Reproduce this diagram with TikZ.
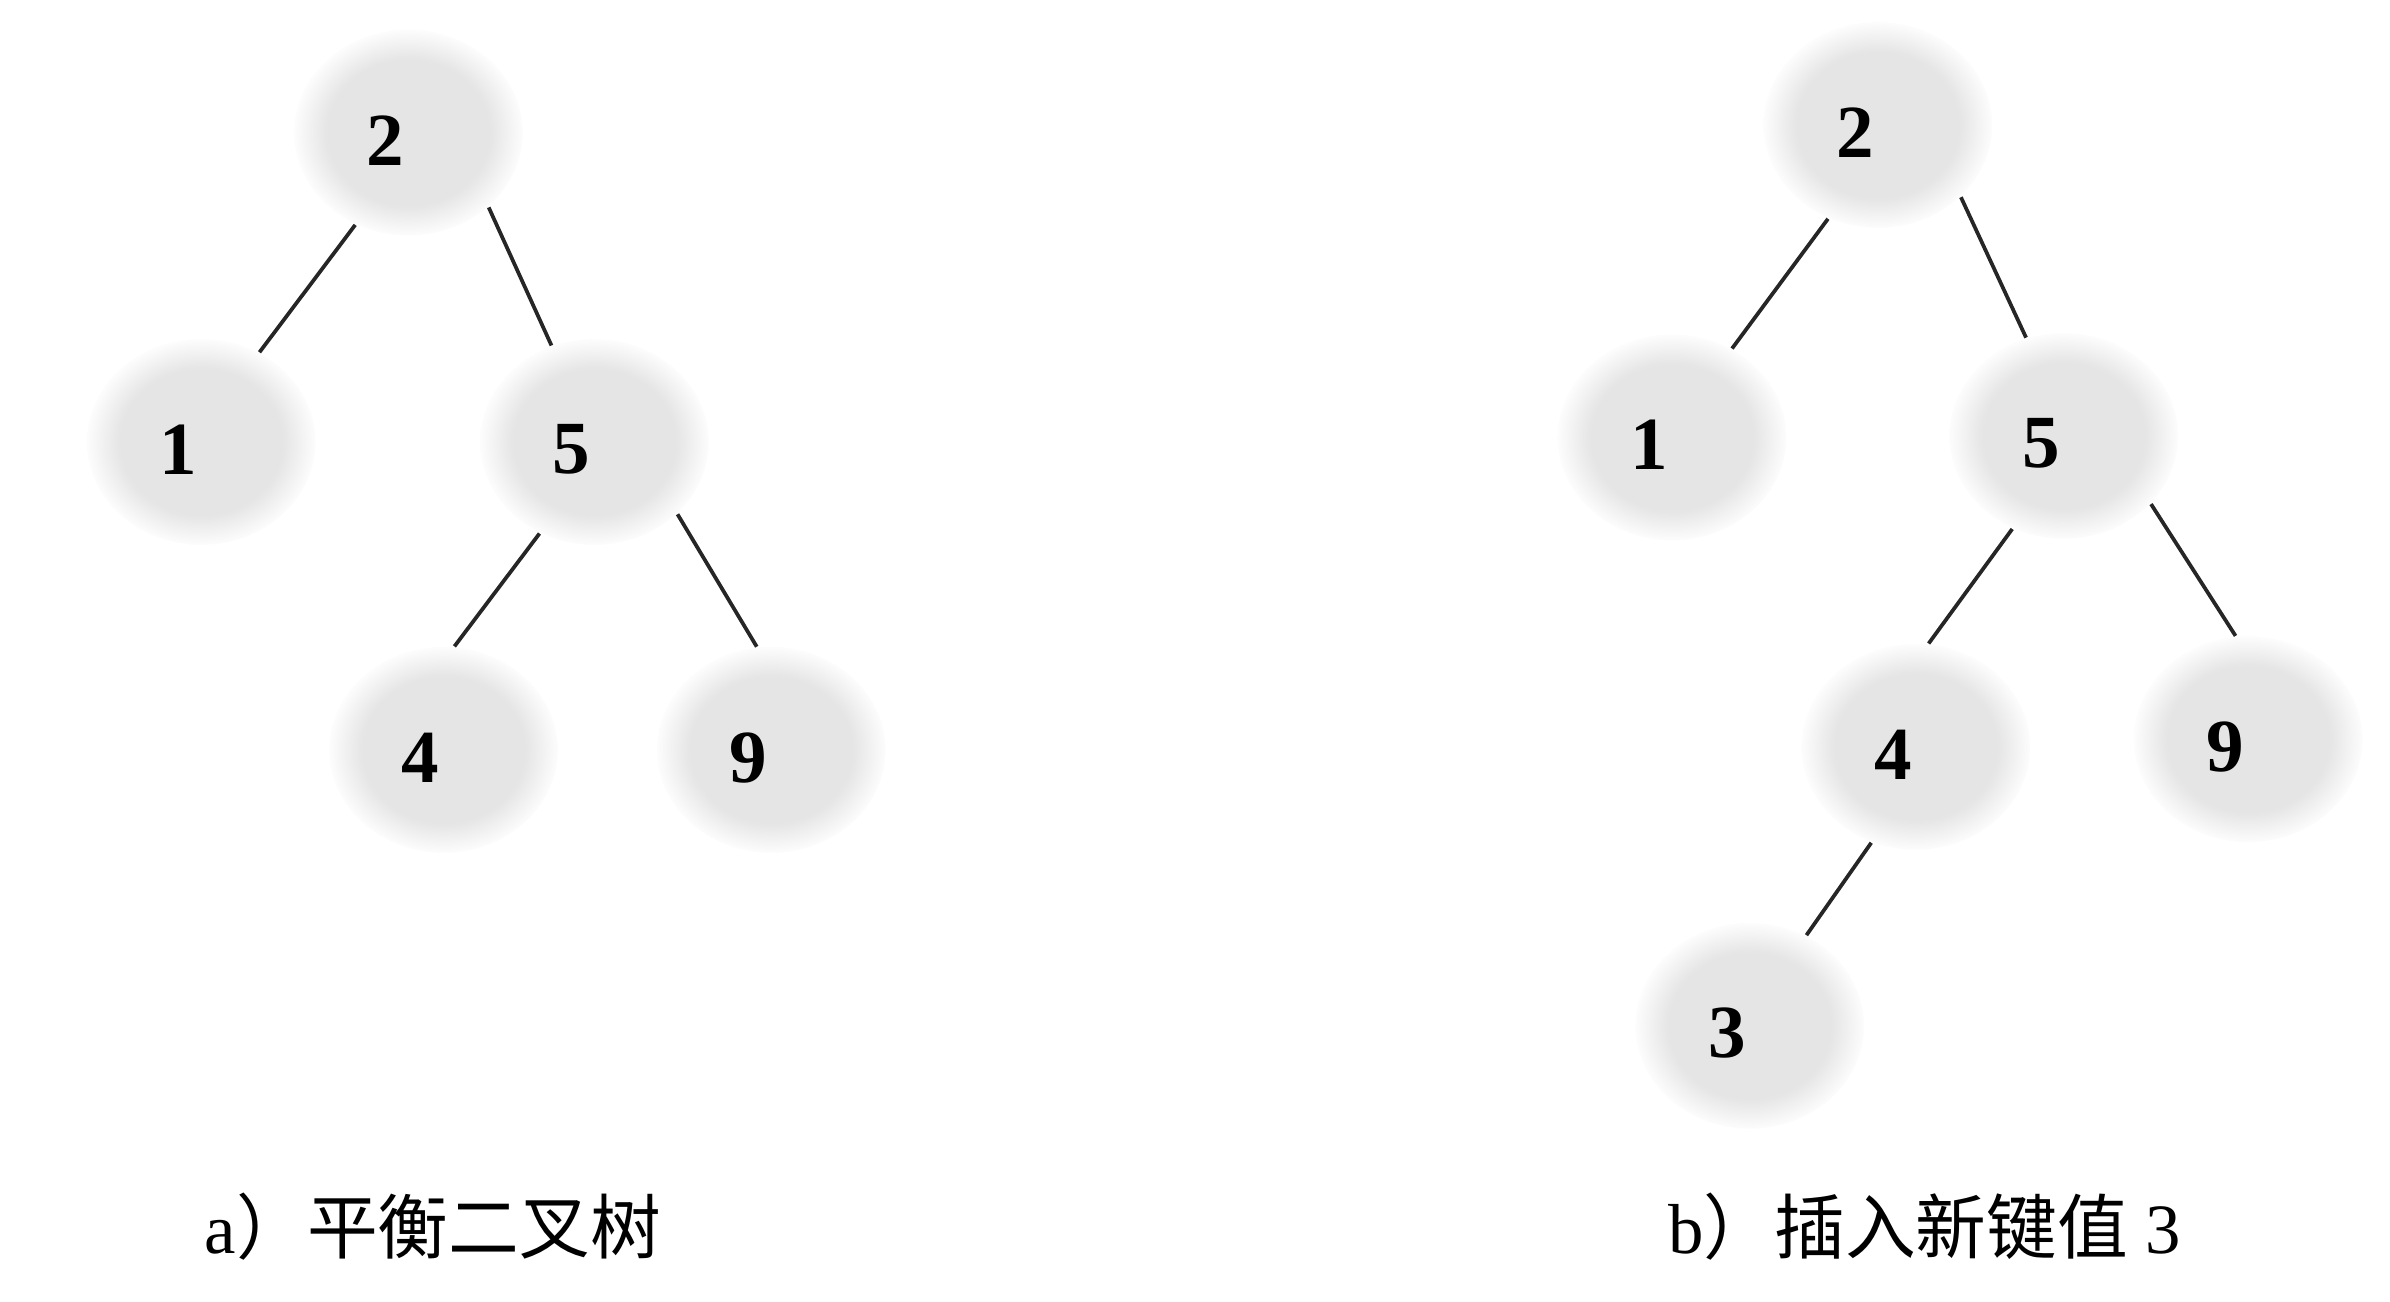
\documentclass[tikz,border=0pt]{standalone}
\usepackage{fontspec}
\setmainfont{Liberation Serif}
\newfontfamily\cjk{Noto Sans CJK SC}
\usetikzlibrary{shapes.geometric}
% soft grey disc, flat in the middle and fading out at the rim
\pgfdeclareradialshading{halo}{\pgfpoint{0bp}{0bp}}{color(0bp)=(black!10); color(18bp)=(black!10); color(25bp)=(black!1); color(50bp)=(white)}

\begin{document}
\begin{tikzpicture}[x=0.01cm, y=-0.01cm,
    blob/.style={ellipse, minimum width=1.5cm, minimum height=1.35cm, inner sep=0pt,
        shade, shading=halo, label={[digit]center:#1}},
    digit/.style={font=\fontsize{14}{14}\selectfont\bfseries, xshift=-0.15cm, yshift=-0.05cm},
    link/.style={line width=0.7pt, black!85},
    caption/.style={font=\fontsize{13.2}{16}\selectfont, anchor=west}]
    \useasboundingbox (0,0) rectangle (1568,854);

        % a) balanced tree
        \draw
        (268,87)  node[blob=2] (a2) {}
        (132,290) node[blob=1] (a1) {}
        (390,290) node[blob=5] (a5) {}
        (291,492) node[blob=4] (a4) {}
        (506,492) node[blob=9] (a9) {}
        ;
        \draw[link] (a2.240) -- (a1.57);
        \draw[link] (a2.317) -- (a5.114);
        \draw[link] (a5.239) -- (a4.84);
        \draw[link] (a5.319) -- (a9.98);

        % b) after inserting 3
        \draw
        (1232,82)  node[blob=2] (b2) {}
        (1097,287) node[blob=1] (b1) {}
        (1354,286) node[blob=5] (b5) {}
        (1257,490) node[blob=4] (b4) {}
        (1475,485) node[blob=9] (b9) {}
        (1148,673) node[blob=3] (b3) {}
        ;
        \draw[link] (b2.242) -- (b1.56);
        \draw[link] (b2.319) -- (b5.111);
        \draw[link] (b5.241) -- (b4.83);
        \draw[link] (b5.322) -- (b9.97);
        \draw[link] (b4.245) -- (b3.58);

        \node[caption] (capa) at (122,805) {a{\cjk）平衡二叉树}};
        \node[caption] (capb) at (1082,805) {b{\cjk）插入新键值} 3};
    \end{tikzpicture}
\end{document}
